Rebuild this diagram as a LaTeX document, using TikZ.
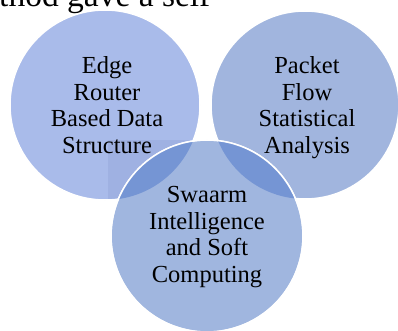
\documentclass[tikz,border=0pt]{standalone}
\usepackage{fontspec}
\setmainfont{Liberation Serif}
\definecolor{cleft}{RGB}{169,187,234}
\definecolor{cright}{RGB}{161,181,222}
\definecolor{cbottom}{RGB}{160,182,223}
\definecolor{clens}{RGB}{117,149,212}
\definecolor{crect}{RGB}{159,177,226}
\tikzset{
  bubble/.style={circle, draw=white, line width=1.5pt, minimum size=#1, inner sep=0pt},
  label/.style={align=center, font=\fontsize{24.5}{26.5}\selectfont, text=black},
}
\begin{document}
\begin{tikzpicture}[x=1pt,y=-1pt]
\useasboundingbox (0,0) rectangle (398,331);
\clip (0,0) rectangle (398,331);
% cropped line of body text at the top
\node[anchor=base west, inner sep=0pt, font=\fontsize{33.5}{35}\selectfont] (toptext) at (-1,7) {thod gave a self};
% circles
\node[bubble=190pt, fill=cleft] (left) at (105,105) {};
\node[bubble=188pt, fill=cright] (right) at (305,105) {};
% faint rectangle artefact inside the left circle
\begin{scope}
  \clip (105,105) circle (94);
  \fill[crect] (108,140) rectangle (205,202);
\end{scope}
\node[bubble=192pt, fill=cbottom] (bottom) at (207,236) {};
% overlap lenses
\begin{scope}
  \clip (207,236) circle (96);
  \fill[clens] (105,105) circle (95);
  \fill[clens] (305,105) circle (94);
\end{scope}
\draw[white, line width=1.5pt] (207,236) circle (96);
% labels
\node[label] (lefttext) at (107,105) {Edge\\Router\\Based Data\\Structure};
\node[label] (righttext) at (307,107.5) {Packet\\Flow\\Statistical\\Analysis};
\node[label] (bottomtext) at (207,237) {Swaarm\\Intelligence\\and Soft\\Computing};
\end{tikzpicture}
\end{document}
